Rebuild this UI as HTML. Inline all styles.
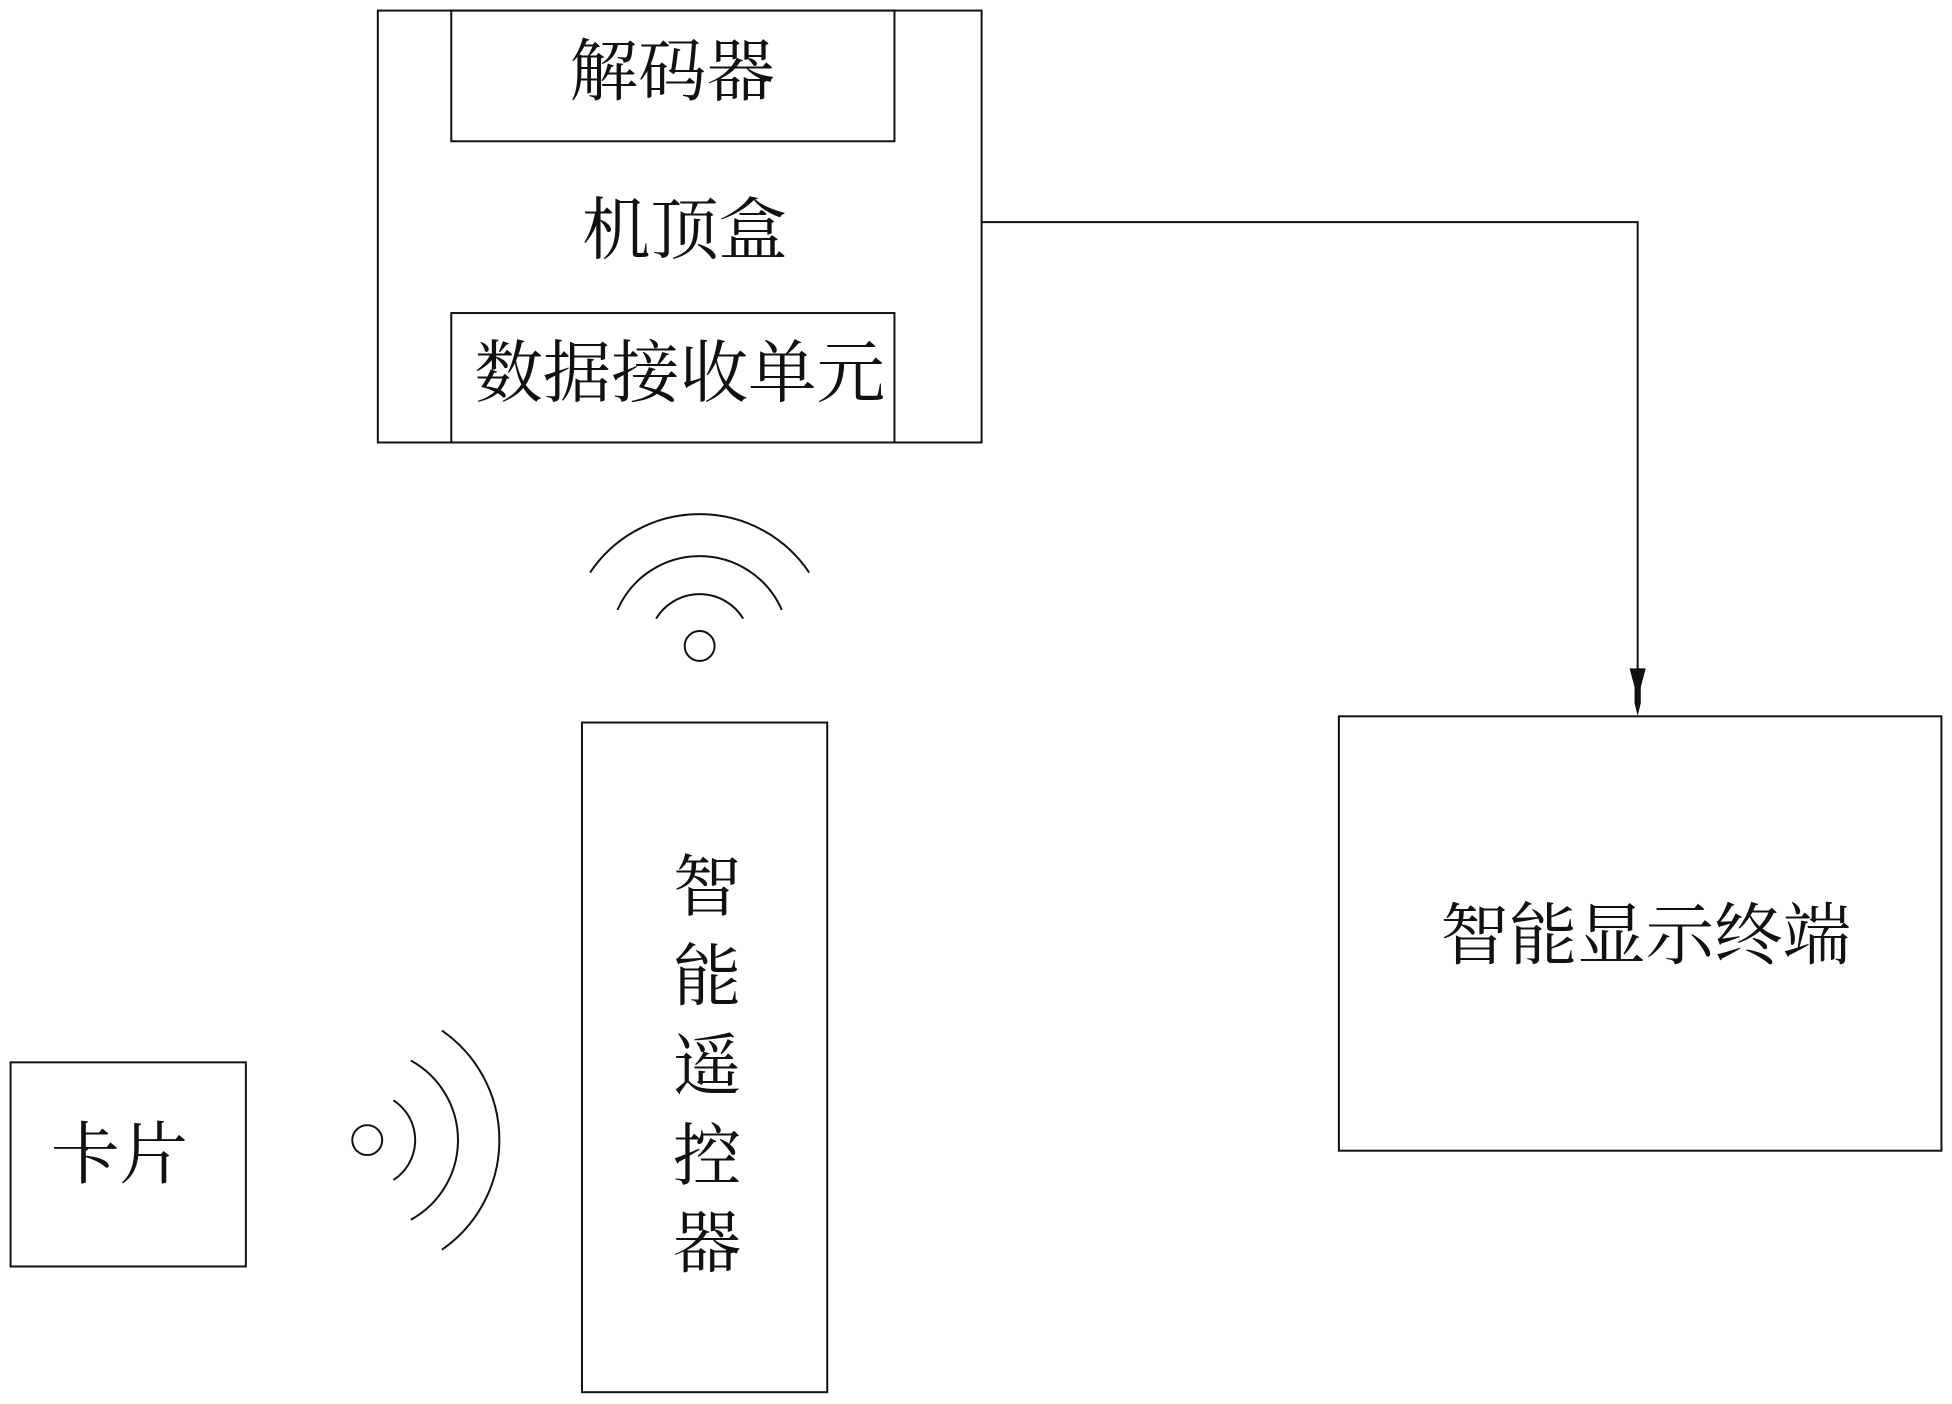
<!DOCTYPE html>
<html><head><meta charset="utf-8"><style>
html,body{margin:0;padding:0;background:#fff;}
svg{display:block;}
text{font-family:"Liberation Serif","Noto Serif CJK SC",serif;font-size:55px;fill:#111;text-anchor:middle;dominant-baseline:central;}
</style></head><body>
<svg width="1952" height="1404" viewBox="0 0 1568 1128" preserveAspectRatio="none" xmlns="http://www.w3.org/2000/svg">
<g fill="none" stroke="#111" stroke-width="1.6">
<rect x="303.5" y="8.5" width="485" height="347"/>
<rect x="362.5" y="8.5" width="356" height="105"/>
<rect x="362.5" y="251.5" width="356" height="104"/>
<polyline points="788,178.5 1315.5,178.5 1315.5,560"/>
<rect x="1075.5" y="575.5" width="484" height="349"/>
<rect x="467.5" y="580.5" width="197" height="538"/>
<rect x="8.5" y="853.5" width="189" height="164"/>
<circle cx="562" cy="519" r="12"/>
<path d="M527,497 A41,41 0 0 1 597,497"/>
<path d="M496,490 A72,72 0 0 1 628,490"/>
<path d="M474,460 A106,106 0 0 1 650,460"/>
<circle cx="295" cy="916" r="12"/>
<path d="M316,884 A38,38 0 0 1 316,948"/>
<path d="M330,852 A73,73 0 0 1 330,980"/>
<path d="M355,828 A107,107 0 0 1 355,1004"/>
</g>
<polygon points="1309,537 1322,537 1318,552 1318,565 1315.5,575 1313,565 1313,552" fill="#111"/>
<text x="540" y="58">解码器</text>
<text x="550" y="185">机顶盒</text>
<text x="546" y="300">数据接收单元</text>
<text x="1322" y="752">智能显示终端</text>
<text x="96" y="928">卡片</text>
<text x="568" y="713">智</text>
<text x="568" y="785">能</text>
<text x="568" y="857">遥</text>
<text x="568" y="929">控</text>
<text x="568" y="999">器</text>
</svg>
</body></html>
